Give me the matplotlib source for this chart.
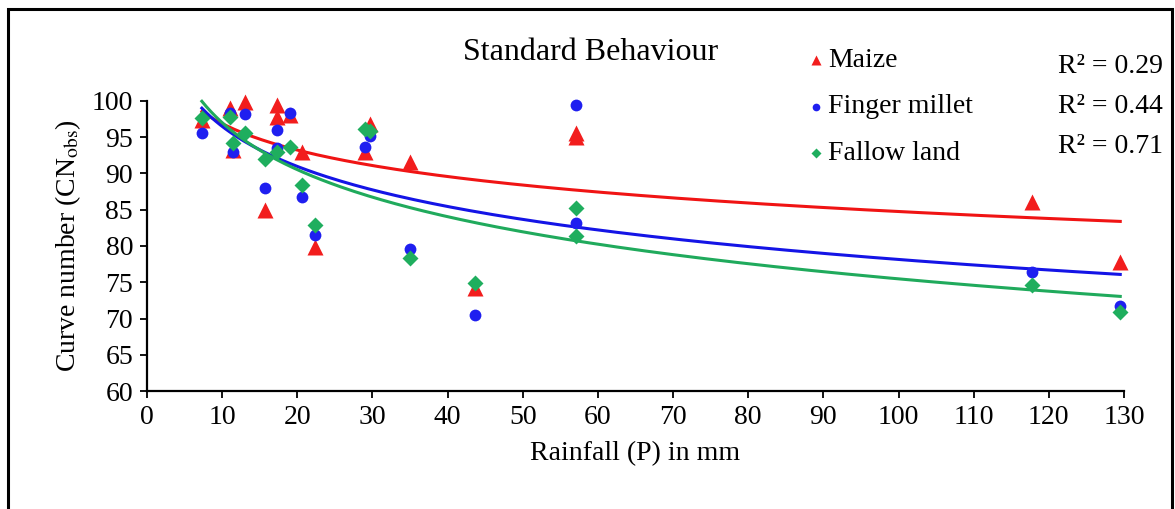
"""
Standard behaviour: observed curve number vs rainfall, with log trendlines.
"""

import matplotlib

matplotlib.use("Agg")
import matplotlib.pyplot as plt
import numpy as np
from matplotlib.lines import Line2D
from matplotlib.patches import Rectangle

plt.rcParams["font.family"] = "serif"
plt.rcParams["font.serif"] = ["Liberation Serif", "DejaVu Serif"]
plt.rcParams["mathtext.fontset"] = "stix"

# values
maize_p = [7.3, 11.0, 11.5, 13.1, 17.3, 17.3, 19.0, 15.7, 20.6, 22.3,
           29.0, 29.7, 35.0, 43.7, 57.1, 57.1, 117.8, 129.5]
maize_cn = [97.4, 99.0, 93.3, 99.8, 99.45, 97.8, 98.1, 85.0, 93.0, 79.8,
            93.0, 96.8, 91.6, 74.2, 95.6, 95.0, 86.1, 77.8]

millet_p = [7.3, 11.0, 11.5, 13.1, 15.7, 17.3, 17.3, 19.0, 20.6, 22.3,
            29.0, 29.7, 35.0, 43.7, 57.1, 57.1, 117.8, 129.5]
millet_cn = [95.6, 98.4, 93.0, 98.2, 88.0, 96.0, 93.5, 98.4, 86.7, 81.5,
             93.7, 95.2, 79.6, 70.5, 99.45, 83.2, 76.45, 71.7]

fallow_p = [7.3, 11.0, 11.5, 13.0, 15.7, 17.3, 19.0, 20.6, 22.3,
            29.0, 29.7, 35.0, 43.7, 57.1, 57.1, 117.8, 129.5]
fallow_cn = [97.7, 97.75, 94.2, 95.6, 92.0, 93.0, 93.6, 88.4, 82.9,
             96.2, 95.9, 78.4, 74.85, 85.2, 81.4, 74.6, 70.9]

r2_labels = ["R² = 0.29", "R² = 0.44", "R² = 0.71"]

series = [
    ("Maize", maize_p, maize_cn, "^", 11, "#f21d1d", "#f01414"),
    ("Finger millet", millet_p, millet_cn, "o", 8.5, "#1f1ff0", "#1414e6"),
    ("Fallow land", fallow_p, fallow_cn, "D", 8.2, "#1fae5e", "#20aa5c"),
]

fig = plt.figure(figsize=(11.75, 5.09), dpi=100)
ax = fig.add_axes([0.1251, 0.2318, 0.8315, 0.5698])

for name, p, cn, mk, ms, c, lc in series:
    p = np.asarray(p)
    cn = np.asarray(cn)
    ax.plot(p, cn, ls="none", marker=mk, ms=ms, color=c, mec="none",
            clip_on=False, zorder=3)
    # Excel-style logarithmic trendline over the data range
    a, b = np.polyfit(np.log(p), cn, 1)
    xs = np.linspace(p.min(), p.max(), 200)
    ax.plot(xs, a * np.log(xs) + b, color=lc, lw=2.2, clip_on=False, zorder=2)

ax.set_xlim(0, 130)
ax.set_ylim(60, 100)
ax.set_xticks(np.arange(0, 131, 10))
ax.set_yticks(np.arange(60, 101, 5))
for s in ["top", "right"]:
    ax.spines[s].set_visible(False)
for s in ["left", "bottom"]:
    ax.spines[s].set_linewidth(1.6)
ax.tick_params(direction="out", length=5, width=1.3, labelsize=20, pad=5)
ax.set_xlabel("Rainfall (P) in mm", fontsize=20, labelpad=8)
ax.set_ylabel(r"Curve number (CN$_{\mathrm{obs}}$)", fontsize=20, labelpad=6)

fig.text(0.503, 0.897, "Standard Behaviour", fontsize=23, ha="center", va="center")

# legend, drawn by hand
for i, (name, _, _, mk, ms, c, _) in enumerate(series):
    yy = 0.882 - i * 0.0915
    fig.add_artist(Line2D([0.6945], [yy], ls="none", marker=mk, ms=ms * 0.65,
                          color=c, mec="none", transform=fig.transFigure))
    fig.text(0.7045, yy, name, fontsize=20, ha="left", va="center")

for i, txt in enumerate(r2_labels):
    fig.text(0.990, 0.870 - i * 0.0785, txt, fontsize=20, ha="right", va="center")

fig.patches.append(Rectangle((0.0068, -0.05), 0.9905, 1.032, transform=fig.transFigure,
                             fill=False, edgecolor="black", lw=2.2))

fig.savefig("out.png", dpi=100)
